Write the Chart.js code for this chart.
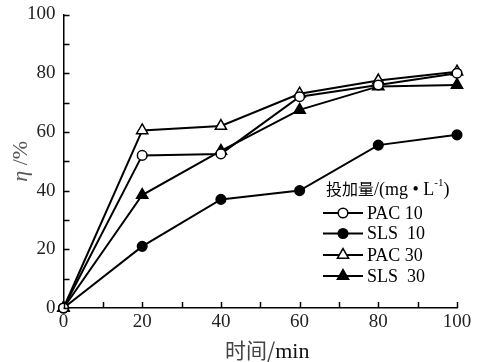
<!DOCTYPE html>
<html><head><meta charset="utf-8">
<script src="https://cdn.jsdelivr.net/npm/chart.js@4/dist/chart.umd.min.js"></script>
<style>html,body{margin:0;padding:0;background:#fff}#wrap{width:477px;height:362px}</style>
</head><body><div id="wrap"><canvas id="c" width="477" height="362"></canvas></div>
<script>
const times = [0, 20, 40, 60, 80, 100];
const pac10 = [0, 52, 52.5, 72, 76, 80];
const sls10 = [0, 21, 37, 40, 55.5, 59];
const pac30 = [0, 60.5, 62, 73, 77.5, 80.5];
const sls30 = [0, 38.5, 53.5, 67.5, 75.5, 76];
const seriesNames = ['PAC 10', 'SLS  10', 'PAC 30', 'SLS  30'];
const xTicks = [0, 20, 40, 60, 80, 100];
const yTicks = [0, 20, 40, 60, 80, 100];
const xTitleCJK = '时间/';
const xTitleUnit = 'min';

const SERIF = "'Liberation Serif','DejaVu Serif',serif";
const CJK = "'Noto Sans CJK SC',sans-serif";

function mk(label, vals, style, fill) {
  return {
    label, data: times.map((t, i) => ({x: t, y: vals[i]})),
    borderColor: '#000', borderWidth: 2, pointStyle: style,
    pointRadius: style === 'triangle' ? 6.5 : 4.8,
    pointBackgroundColor: fill, pointBorderColor: '#000', pointBorderWidth: 1.5,
    tension: 0, clip: false
  };
}
const datasets = [
  mk(seriesNames[0], pac10, 'circle', '#fff'),
  mk(seriesNames[1], sls10, 'circle', '#000'),
  mk(seriesNames[2], pac30, 'triangle', '#fff'),
  mk(seriesNames[3], sls30, 'triangle', '#000')
];

const decor = {
  id: 'decor',
  afterDatasetsDraw(chart) {
    const ctx = chart.ctx, x = chart.scales.x, y = chart.scales.y;
    ctx.save();
    ctx.strokeStyle = '#000'; ctx.lineWidth = 1.5;
    for (let v = 0; v <= 100; v += 10) {
      const px = Math.round(x.getPixelForValue(v)) + 0.5;
      ctx.beginPath(); ctx.moveTo(px, y.bottom); ctx.lineTo(px, y.bottom - 6); ctx.stroke();
      const py = Math.round(y.getPixelForValue(v)) + 0.5;
      ctx.beginPath(); ctx.moveTo(x.left, py); ctx.lineTo(x.left + 6, py); ctx.stroke();
    }
    // x title
    ctx.fillStyle = '#444';
    ctx.textBaseline = 'alphabetic';
    ctx.font = "21px " + CJK;
    const cx = (x.left + x.right) / 2 + 7;
    const w1 = ctx.measureText(xTitleCJK).width;
    ctx.font = "22px " + SERIF;
    const w2 = ctx.measureText(xTitleUnit).width;
    let sx = cx - (w1 + w2) / 2;
    ctx.font = "21px " + CJK; ctx.textAlign = 'left';
    ctx.fillText(xTitleCJK, sx, 358);
    ctx.fillStyle = '#111'; ctx.font = "22px " + SERIF;
    ctx.fillText(xTitleUnit, sx + w1, 358);
    // y title
    ctx.save();
    ctx.translate(27, (y.top + y.bottom) / 2);
    ctx.rotate(-Math.PI / 2);
    ctx.fillStyle = '#555';
    ctx.font = "italic 22px " + SERIF;
    const a = 'η', b = ' /%';
    const wa = ctx.measureText(a).width;
    ctx.font = "22px " + SERIF;
    const wb = ctx.measureText(b).width;
    let s = -(wa + wb) / 2;
    ctx.font = "italic 22px " + SERIF; ctx.fillText(a, s, 0);
    ctx.font = "22px " + SERIF; ctx.fillText(b, s + wa, 0);
    ctx.restore();
    // legend
    ctx.fillStyle = '#000';
    ctx.font = "16px " + CJK; ctx.textAlign = 'left';
    let lx = 326, ly = 195;
    const parts = ['投加量', '/(mg • L'];
    ctx.fillText(parts[0], lx, ly);
    lx += ctx.measureText(parts[0]).width;
    ctx.font = "18px " + SERIF;
    ctx.fillText(parts[1], lx, ly);
    lx += ctx.measureText(parts[1]).width;
    ctx.font = "11px " + SERIF;
    ctx.fillText('-1', lx, ly - 9);
    lx += ctx.measureText('-1').width;
    ctx.font = "18px " + SERIF;
    ctx.fillText(')', lx, ly);
    const rows = [213, 233.5, 255, 276];
    chart.data.datasets.forEach((ds, i) => {
      const ry = rows[i];
      ctx.strokeStyle = '#000'; ctx.lineWidth = 2;
      ctx.beginPath(); ctx.moveTo(323, ry); ctx.lineTo(363, ry); ctx.stroke();
      ctx.lineWidth = ds.pointBorderWidth;
      ctx.fillStyle = ds.pointBackgroundColor; ctx.strokeStyle = ds.pointBorderColor;
      Chart.helpers.drawPoint(ctx, {pointStyle: ds.pointStyle, radius: ds.pointRadius, borderWidth: ds.pointBorderWidth}, 343, ry);
      ctx.fillStyle = '#000';
      ctx.font = "18px " + SERIF; ctx.textBaseline = 'middle';
      ctx.fillText(ds.label, 367, ry + 1);
      ctx.textBaseline = 'alphabetic';
    });
    ctx.restore();
  }
};

new Chart(document.getElementById('c'), {
  type: 'line',
  data: { datasets },
  options: {
    responsive: false, animation: false, devicePixelRatio: 1,
    layout: { padding: { top: 14.5, right: 20, left: 0, bottom: 0 } },
    plugins: { legend: { display: false }, tooltip: { enabled: false } },
    scales: {
      x: {
        type: 'linear', min: 0, max: 100,
        afterBuildTicks: s => { s.ticks = xTicks.map(v => ({value: v})); },
        afterFit: s => { s.height = 54; s.paddingLeft = 0; s.paddingRight = 0; },
        grid: { display: false, drawTicks: false },
        border: { display: true, color: '#000', width: 1.5 },
        ticks: { color: '#222', font: { family: SERIF, size: 19 }, padding: 3, maxRotation: 0 }
      },
      y: {
        min: 0, max: 100,
        afterBuildTicks: s => { s.ticks = yTicks.map(v => ({value: v})); },
        afterFit: s => { s.width = 63.5; s.paddingTop = 0; s.paddingBottom = 0; },
        grid: { display: false, drawTicks: false },
        border: { display: true, color: '#000', width: 1.5 },
        ticks: { color: '#222', font: { family: SERIF, size: 19 }, padding: 8 }
      }
    }
  },
  plugins: [decor]
});
</script></body></html>
